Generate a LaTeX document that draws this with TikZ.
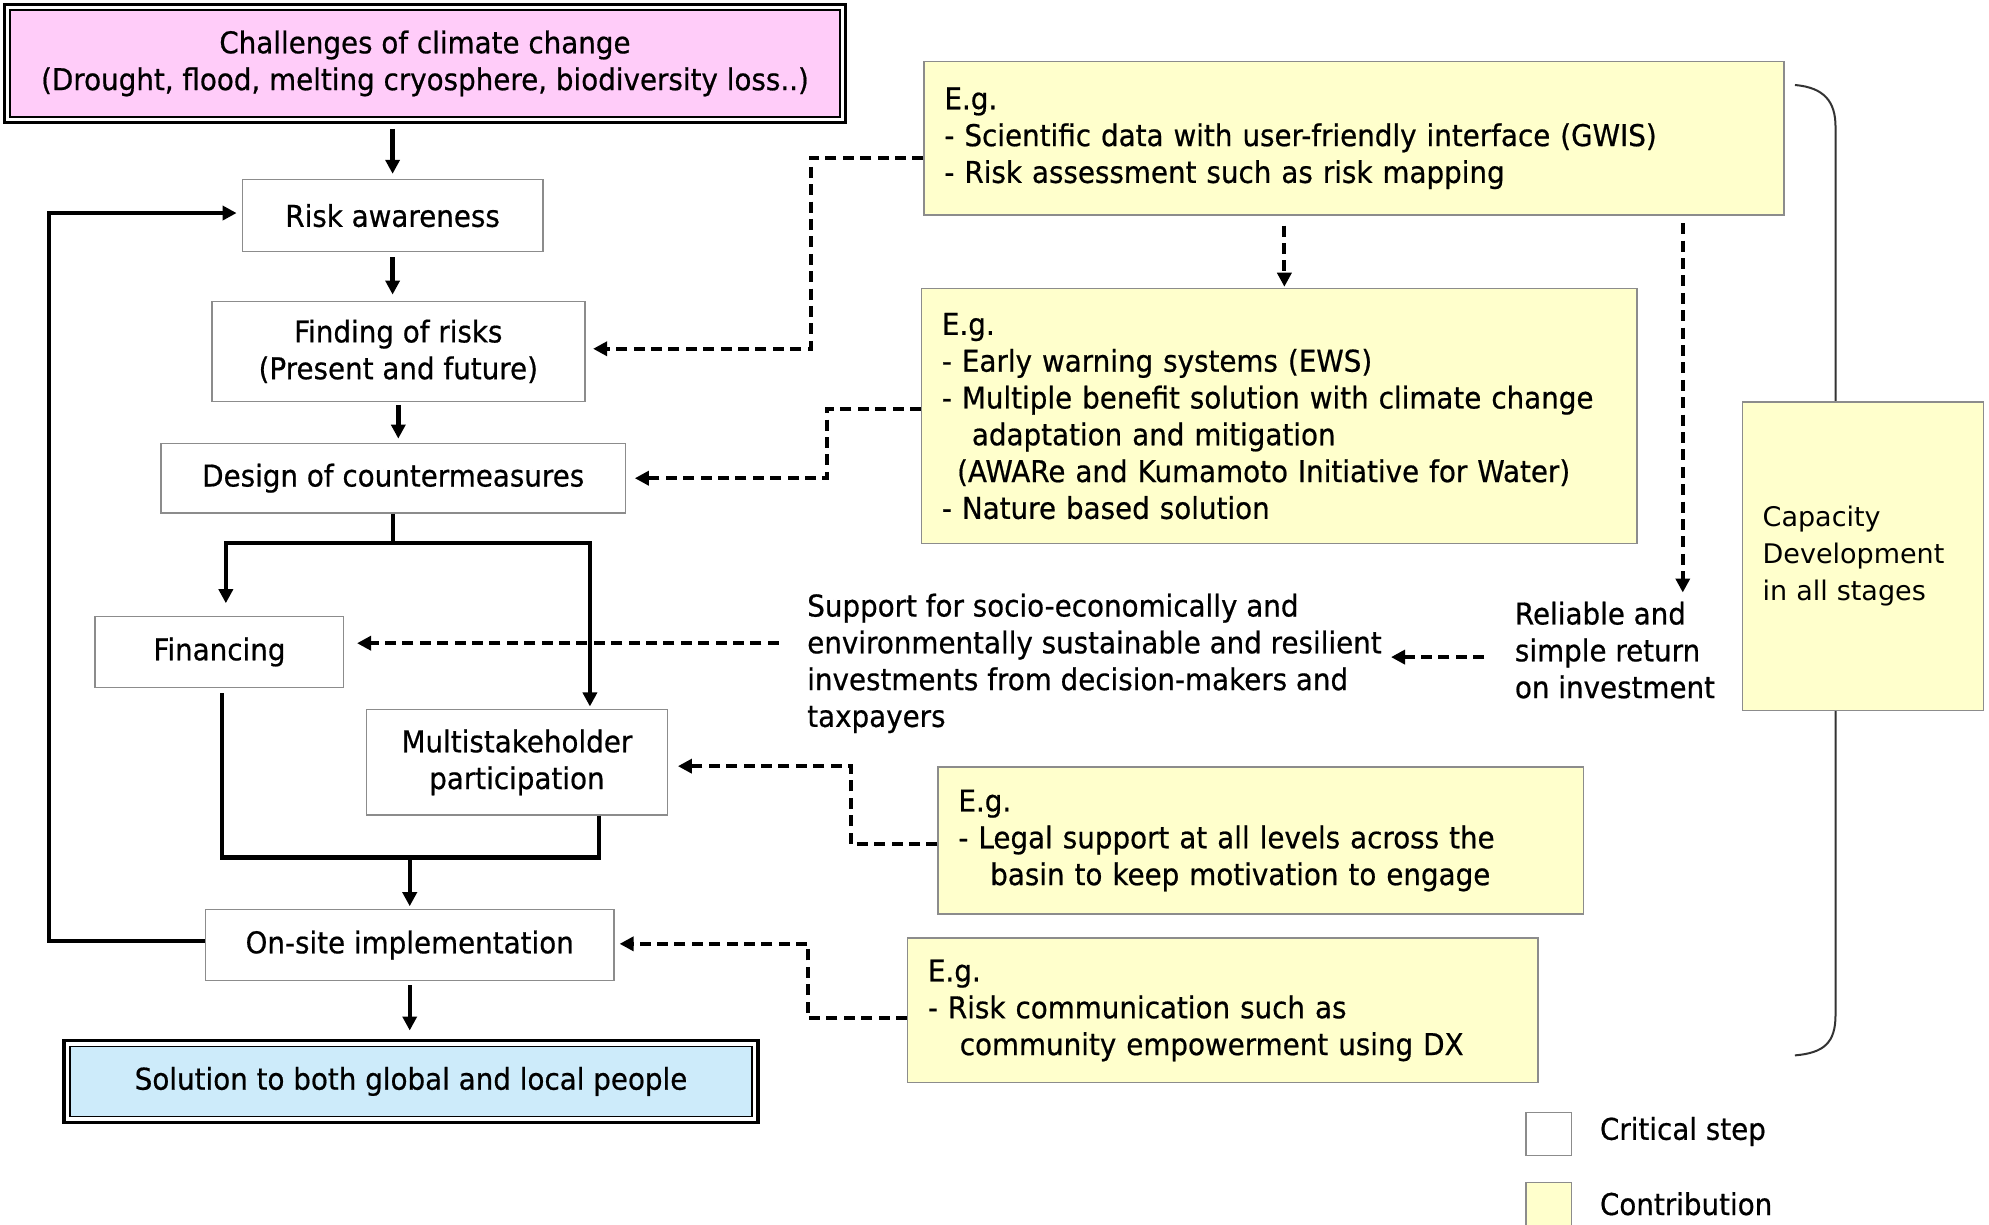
\documentclass[tikz,border=0pt]{standalone}
\usepackage{fontspec}
\setmainfont{DejaVu Sans}[FakeStretch=0.925, FakeBold=0.6]
\newfontfamily\capfont{DejaVu Sans}
\usetikzlibrary{arrows.meta}
\definecolor{pinkfill}{HTML}{FFCCF9}
\definecolor{bluefill}{HTML}{CDEBFA}
\definecolor{yelfill}{HTML}{FFFFCC}
\definecolor{boxgray}{HTML}{8C8C8C}
\definecolor{brk}{HTML}{333333}
\newcommand\mainsz{\fontsize{15pt}{18.4pt}\selectfont}
\begin{document}
\begin{tikzpicture}[x={(0.63425pt,0)}, y={(0,-0.63425pt)}, font=\mainsz,
  crit/.style={draw=boxgray, line width=0.7pt, fill=white, inner sep=0pt, align=center},
  contrib/.style={draw=boxgray, line width=0.7pt, fill=yelfill, inner xsep=10.15pt, inner ysep=0pt, align=left, anchor=north west},
  sline/.style={line width=2.2pt},
  sarrow/.style={line width=2.2pt, -{Triangle[length=7pt,width=7pt]}},
  darr/.style={line width=2pt, dash pattern=on 5.5pt off 3.2pt, -{Triangle[length=7pt,width=7pt]}},
  dline/.style={line width=2pt, dash pattern=on 5.5pt off 3.2pt},
  plaintext/.style={inner ysep=4.4pt, align=left, anchor=west}]
\fill[white] (0,0) rectangle (1568,965);
\useasboundingbox (0,0) rectangle (1568,965);

% bracket
\draw[brk, line width=1pt] (1415,67) .. controls (1438,69) and (1447,80) .. (1447,100) -- (1447,800) .. controls (1447,822) and (1438,830) .. (1415,832);

% top and bottom boxes
\node[draw=black, line width=0.8pt, fill=pinkfill, minimum width=414.8pt, minimum height=53.3pt, align=center, inner sep=0pt] (top) at (335,50)
  {Challenges of climate change\\(Drought, flood, melting cryosphere, biodiversity loss..)};
\draw[line width=1.6pt] ([shift={(-2.5pt,2.5pt)}]top.north west) rectangle ([shift={(2.5pt,-2.5pt)}]top.south east);
\node[draw=black, line width=0.8pt, fill=bluefill, minimum width=341.2pt, minimum height=34.9pt, align=center, inner sep=0pt] (sol) at (324,852.5)
  {Solution to both global and local people};
\draw[line width=1.6pt] ([shift={(-2.5pt,2.5pt)}]sol.north west) rectangle ([shift={(2.5pt,-2.5pt)}]sol.south east);

% critical steps
\node[crit, minimum width=150.3pt, minimum height=36.15pt] (risk) at (309.5,170) {Risk awareness};
\node[crit, minimum width=186.5pt, minimum height=50.1pt] (find) at (314,277) {Finding of risks\\(Present and future)};
\node[crit, minimum width=232.1pt, minimum height=34.9pt] (design) at (310,377) {Design of countermeasures};
\node[crit, minimum width=124.3pt, minimum height=35.5pt] (fin) at (173,514) {Financing};
\node[crit, minimum width=150.3pt, minimum height=52.6pt] (multi) at (407.5,601) {Multistakeholder\\participation};
\node[crit, minimum width=204.2pt, minimum height=35.5pt] (onsite) at (323,745) {On-site implementation};

% contributions
\node[contrib, text width=409.7pt, minimum height=76.7pt] (ex1) at (728,48)
  {E.g.\\- Scientific data with user-friendly interface (GWIS)\\- Risk assessment such as risk mapping};
\node[contrib, text width=337.4pt, minimum height=127.5pt] (ex2) at (726,227)
  {E.g.\\- Early warning systems (EWS)\\- Multiple benefit solution with climate change\\\hspace*{15pt}adaptation and mitigation\\\hspace*{7.6pt}(AWARe and Kumamoto Initiative for Water)\\- Nature based solution};
\node[contrib, text width=302.5pt, minimum height=73.6pt] (ex3) at (739,604)
  {E.g.\\- Legal support at all levels across the\\\hspace*{15.9pt}basin to keep motivation to engage};
\node[contrib, text width=294.9pt, minimum height=72.3pt] (ex4) at (715,739)
  {E.g.\\- Risk communication such as\\\hspace*{15.9pt}community empowerment using DX};
\node[contrib, text width=100.2pt, minimum height=154.1pt, font=\capfont\fontsize{13.5pt}{18.4pt}\selectfont] (cap) at (1373,316.5)
  {Capacity\\Development\\in all stages};

% free texts
\node[plaintext, inner xsep=14pt] (support) at (614,523)
  {Support for socio-economically and\\environmentally sustainable and resilient\\investments from decision-makers and\\taxpayers};
\node[plaintext, inner xsep=15.2pt] (reliable) at (1170,512.5)
  {Reliable and\\simple return\\on investment};

% legend
\node[draw=boxgray, line width=0.7pt, fill=white, minimum width=22.8pt, minimum height=21.6pt, inner sep=0pt] (lg1) at (1221,894) {};
\node[anchor=west, inner sep=0pt] (lg1t) at (1261,892) {Critical step};
\node[draw=boxgray, line width=0.7pt, fill=yelfill, minimum width=22.8pt, minimum height=22.8pt, inner sep=0pt] (lg2) at (1221,950) {};
\node[anchor=west, inner sep=0pt] (lg2t) at (1261,949) {Contribution};

% solid flow
\draw[sarrow, shorten <=5.7pt, shorten >=2.5pt] (top.south -| risk.north) -- (risk.north);
\draw[sarrow, shorten <=2.5pt, shorten >=3pt] (risk.south) -- (risk.south |- find.north);
\draw[sarrow, shorten <=1.3pt, shorten >=2pt] (find.south) -- (find.south |- design.north);
\coordinate (split) at (310,428);
\draw[sline] (design.south) -- (split);
\draw[sarrow, shorten >=6.3pt] (split) -| ([xshift=3.2pt]fin.north);
\draw[sarrow, shorten >=1.3pt] (split) -| ([xshift=36.5pt]multi.north);
\coordinate (join) at (323,676);
\draw[sline, shorten <=2.5pt] ([xshift=1.3pt]fin.south) |- (join);
\draw[sline] ([xshift=40.9pt]multi.south) |- (join);
\draw[sarrow, shorten >=1.3pt] (join) -- (onsite.north);
\draw[sarrow, shorten >=2.5pt] ([yshift=1.9pt]onsite.west) -- ++(-123,0) |- ([yshift=1.3pt]risk.west);
\draw[sarrow, shorten <=1.9pt, shorten >=7.6pt] (onsite.south) -- (onsite.south |- sol.north);

% dashed contributions
\draw[darr, shorten >=3.8pt] ([yshift=-9.8pt]ex1.west) -- ++(-89,0) |- ([yshift=1.3pt]find.east);
\draw[darr, shorten >=4.4pt] ([yshift=3.5pt]ex2.west) -- ++(-74,0) |- (design.east);
\draw[darr, shorten >=5pt] ([yshift=-1.9pt]ex3.west) -- ++(-68,0) |- ([yshift=-1.9pt]multi.east);
\draw[darr, shorten >=2.5pt] ([yshift=-3.8pt]ex4.west) -- ++(-78,0) |- ([yshift=0.6pt]onsite.east);
\draw[darr, shorten <=5pt, shorten >=0.6pt] ([xshift=-34.9pt]ex1.south) -- ([xshift=-34.9pt]ex1.south |- ex2.north);
\draw[darr, shorten <=3.8pt] ([xshift=164.3pt]ex1.south) -- ([xshift=164.3pt]ex1.south |- reliable.north);
\coordinate (finE) at ([yshift=4.4pt]fin.east);
\draw[darr, shorten >=6.3pt] (finE -| support.west) -- (finE);
\coordinate (relW) at ([yshift=-3.5pt]reliable.west);
\draw[darr] (relW) -- ([xshift=-9.5pt]relW -| support.east);
\end{tikzpicture}
\end{document}
